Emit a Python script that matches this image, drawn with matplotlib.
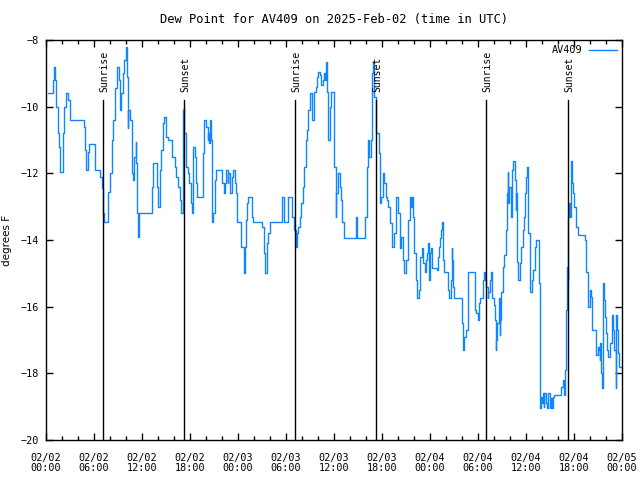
import matplotlib
matplotlib.use('Agg')
import matplotlib.pyplot as plt

# (hours since 2025-02-02 00:00 UTC, dew point F)
day1 = [(0.3, -9.6), (0.9, -9.2), (1.0, -8.8), (1.1, -9.2), (1.3, -10.0), (1.5, -10.8), (1.6, -11.2),
        (1.8, -11.95), (2.1, -10.8), (2.3, -10.0), (2.5, -9.6), (2.8, -9.8), (3.0, -10.4), (4.8, -10.6),
        (4.9, -11.3), (5.0, -11.9), (5.2, -11.35), (5.4, -11.13), (6.1, -11.9), (6.8, -12.1), (7.0, -12.45),
        (7.1, -13.2), (7.3, -13.45), (7.8, -12.55), (8.0, -12.0), (8.2, -11.0), (8.4, -10.4), (8.6, -9.45),
        (8.9, -8.8), (9.1, -9.2), (9.2, -10.1), (9.4, -9.6), (9.6, -9.0), (9.8, -8.6), (9.95, -8.2),
        (10.1, -9.1), (10.2, -10.65), (10.3, -10.1), (10.5, -10.4), (10.7, -11.0), (10.8, -12.0),
        (10.9, -12.2), (11.0, -11.5), (11.2, -11.05), (11.3, -11.7), (11.4, -13.2), (11.5, -13.9),
        (11.6, -13.2), (13.2, -12.4), (13.4, -11.7), (13.9, -12.4), (14.0, -13.0), (14.2, -11.9),
        (14.4, -11.3), (14.6, -10.5), (14.8, -10.3), (15.0, -10.9), (15.2, -11.0), (15.8, -11.5),
        (16.1, -11.8), (16.3, -12.1), (16.5, -12.4), (16.7, -12.8), (16.9, -13.2), (17.1, -10.1),
        (17.2, -10.05), (17.3, -10.8), (17.5, -11.8), (17.7, -12.0), (17.9, -12.3), (18.1, -12.9),
        (18.3, -13.2), (18.4, -11.2), (18.6, -11.5), (18.8, -12.3), (18.9, -12.7), (19.6, -11.4),
        (19.7, -10.4), (20.0, -10.6), (20.2, -11.0), (20.3, -10.8), (20.4, -11.1), (20.5, -10.4),
        (20.6, -11.0), (20.7, -13.45), (20.9, -13.2), (21.1, -12.2), (21.3, -11.9), (22.0, -12.3),
        (22.2, -12.6), (22.4, -12.3), (22.5, -11.9), (22.7, -12.3), (22.8, -12.0), (23.0, -12.6),
        (23.2, -12.1), (23.4, -11.9), (23.6, -12.3), (23.7, -12.6), (23.9, -13.45)]

day2 = [(24.1, -13.45), (24.4, -14.2), (24.8, -15.0), (24.9, -14.2), (25.0, -13.4), (25.1, -12.9),
        (25.2, -12.7), (25.7, -13.3), (25.9, -13.45), (27.0, -13.6), (27.2, -14.4), (27.4, -15.0),
        (27.6, -14.1), (27.8, -13.8), (28.0, -13.45), (29.5, -12.7), (29.7, -13.3), (29.8, -13.45),
        (30.2, -13.0), (30.3, -12.7), (30.8, -13.3), (31.0, -13.7), (31.2, -14.2), (31.4, -13.8),
        (31.5, -13.6), (31.7, -13.3), (31.9, -12.9), (32.1, -12.4), (32.3, -11.8), (32.5, -11.0),
        (32.6, -10.7), (32.8, -10.1), (33.0, -9.6), (33.2, -9.8), (33.3, -10.4), (33.5, -9.55),
        (33.7, -9.4), (33.9, -9.1), (34.0, -8.95), (34.2, -9.05), (34.4, -9.35), (34.6, -9.2),
        (34.7, -9.0), (34.9, -9.2), (35.0, -8.65), (35.1, -9.55), (35.3, -11.0), (35.5, -10.0),
        (35.6, -9.55), (36.0, -11.8), (36.2, -13.3), (36.3, -12.6), (36.5, -12.0), (36.8, -12.4),
        (36.9, -12.8), (37.0, -13.45), (37.3, -13.95), (38.75, -13.3), (38.9, -13.95), (39.9, -13.3),
        (40.1, -11.8), (40.3, -11.0), (40.4, -11.5), (40.6, -11.0), (40.8, -9.0), (40.9, -8.65),
        (41.0, -9.7), (41.2, -10.4), (41.3, -10.8), (41.6, -11.4), (41.7, -12.9), (41.9, -12.7),
        (42.1, -12.0), (42.2, -12.3), (42.5, -12.7), (42.6, -12.8), (42.8, -13.0), (43.0, -13.5),
        (43.2, -13.9), (43.3, -14.2), (43.5, -13.8), (43.7, -13.5), (43.8, -12.7), (44.0, -13.2),
        (44.2, -13.8), (44.3, -14.25), (44.4, -13.9), (44.6, -14.6), (44.8, -15.0), (45.0, -14.6),
        (45.2, -14.0), (45.3, -13.4), (45.5, -12.7), (45.6, -13.0), (45.8, -12.7), (45.9, -13.3),
        (46.0, -14.4), (46.2, -15.2), (46.4, -15.75), (46.6, -15.5), (46.7, -15.2), (46.8, -14.5),
        (47.0, -14.25), (47.1, -14.7), (47.4, -14.95), (47.5, -14.6), (47.6, -14.4), (47.8, -14.1)]

day3 = [(47.9, -15.2), (48.0, -14.4), (48.1, -14.25), (48.3, -14.85), (48.9, -14.9), (49.0, -14.5),
        (49.1, -14.2), (49.3, -13.95), (49.4, -13.7), (49.5, -13.45), (49.6, -14.6), (49.7, -14.95),
        (50.3, -15.5), (50.4, -15.75), (50.6, -15.2), (50.7, -14.25), (50.8, -14.6), (50.9, -15.4),
        (51.0, -15.75), (52.0, -16.5), (52.1, -17.3), (52.2, -17.1), (52.3, -16.9), (52.5, -16.7),
        (52.7, -16.1), (52.8, -14.95), (53.6, -16.1), (53.8, -16.2), (54.0, -16.4), (54.1, -15.9),
        (54.3, -15.75), (54.6, -15.2), (54.7, -14.95), (54.9, -15.2), (55.0, -15.4), (55.2, -15.75),
        (55.3, -15.55), (55.5, -15.2), (55.6, -14.95), (55.8, -15.75), (56.0, -15.95), (56.1, -16.4),
        (56.2, -17.3), (56.3, -17.0), (56.4, -16.5), (56.6, -15.75), (56.7, -16.85), (56.8, -16.4),
        (56.9, -15.55), (57.1, -14.8), (57.3, -14.45), (57.5, -13.7), (57.6, -12.6), (57.7, -11.95),
        (57.8, -12.9), (57.9, -12.4), (58.1, -13.3), (58.2, -12.7), (58.3, -11.9), (58.4, -11.63),
        (58.6, -12.2), (58.7, -13.1), (58.8, -12.6), (58.9, -14.65), (59.0, -15.2), (59.2, -14.7),
        (59.4, -14.2), (59.6, -13.7), (59.7, -13.3), (59.9, -12.6), (60.0, -12.1), (60.1, -11.8),
        (60.3, -13.8), (60.5, -15.55), (60.7, -15.2), (60.9, -14.9), (61.1, -14.2), (61.2, -14.0),
        (61.6, -15.3), (61.7, -17.8), (61.8, -19.05), (61.9, -18.7), (62.0, -18.9), (62.1, -18.6),
        (62.2, -19.0), (62.3, -18.6), (62.5, -18.9), (62.6, -19.05), (62.7, -18.7), (62.8, -18.6),
        (63.0, -19.05), (63.1, -18.75), (63.3, -19.05), (63.4, -18.7), (63.5, -18.65), (64.4, -18.4),
        (64.6, -18.2), (64.7, -18.5), (64.8, -18.65), (64.9, -17.9), (65.0, -16.1), (65.1, -14.8),
        (65.2, -15.2), (65.3, -13.3), (65.4, -12.9), (65.5, -13.3), (65.6, -11.63), (65.75, -12.3),
        (65.9, -12.6), (66.0, -13.0), (66.2, -13.3), (66.3, -13.6), (66.5, -13.85), (67.4, -14.0),
        (67.5, -14.95), (67.7, -15.7), (67.8, -16.0), (68.0, -15.5), (68.1, -15.7), (68.2, -16.4),
        (68.3, -16.7), (68.7, -17.1), (68.8, -17.45), (69.0, -17.2), (69.1, -17.3), (69.2, -17.6),
        (69.3, -17.1), (69.4, -18.0), (69.5, -18.45), (69.6, -15.3), (69.8, -15.8), (69.9, -16.3),
        (70.0, -16.8), (70.1, -17.3), (70.3, -17.5), (70.5, -17.1), (70.7, -16.7), (70.8, -16.25),
        (70.9, -16.7), (71.0, -17.3), (71.2, -18.45), (71.3, -16.25), (71.4, -16.7), (71.5, -17.4),
        (71.6, -17.8), (72.0, -17.8)]

sun_hours = [7.1, 17.25, 31.1, 41.25, 55.05, 65.25]
sun_names = ['Sunrise', 'Sunset', 'Sunrise', 'Sunset', 'Sunrise', 'Sunset']

tick_hours = list(range(0, 73, 6))
tick_labels = ['02/02\n00:00', '02/02\n06:00', '02/02\n12:00', '02/02\n18:00',
               '02/03\n00:00', '02/03\n06:00', '02/03\n12:00', '02/03\n18:00',
               '02/04\n00:00', '02/04\n06:00', '02/04\n12:00', '02/04\n18:00',
               '02/05\n00:00']

pts = day1 + day2 + day3
hours = [p[0] for p in pts]
dewpt = [p[1] for p in pts]

plt.rcParams['font.family'] = ['DejaVu Sans Mono']
plt.rcParams['font.size'] = 7.3

fig = plt.figure(figsize=(6.4, 4.8), dpi=100)
ax = fig.add_axes([46 / 640, 40 / 480, 576 / 640, 400 / 480])

ax.plot(hours, dewpt, drawstyle='steps-post', color='#0f86ff', lw=1.0, label='AV409')

for h, name in zip(sun_hours, sun_names):
    ax.plot([h, h], [-20, -9.8], color='black', lw=1.0)
    ax.annotate(name, xy=(h, -9.8), xytext=(1, 5.5), textcoords='offset points',
                rotation=90, ha='center', va='bottom', fontsize=7.0)

ax.set_xlim(0, 72)
ax.set_ylim(-20, -8)
ax.set_xticks(tick_hours)
ax.set_xticklabels(tick_labels, linespacing=1.05)
ax.set_xticks(range(0, 73, 2), minor=True)
ax.set_yticks(range(-20, -7, 2))
ax.tick_params(which='both', direction='in', top=True, right=True, width=1.0)
ax.tick_params(which='major', length=5)
ax.tick_params(axis='x', which='major', pad=9)
ax.tick_params(axis='y', which='major', pad=5)
ax.tick_params(which='minor', length=3)
for s in ax.spines.values():
    s.set_linewidth(1.0)

ax.set_title('Dew Point for AV409 on 2025-Feb-02 (time in UTC)', pad=12)
ax.set_ylabel('degrees F', labelpad=6, family=['DejaVu Sans'], fontsize=7.5)

ax.legend(loc='upper right', frameon=False, markerfirst=False, handlelength=2.8,
          borderaxespad=0.2, borderpad=0.3, handletextpad=0.6)

fig.savefig('out.png', dpi=100)
